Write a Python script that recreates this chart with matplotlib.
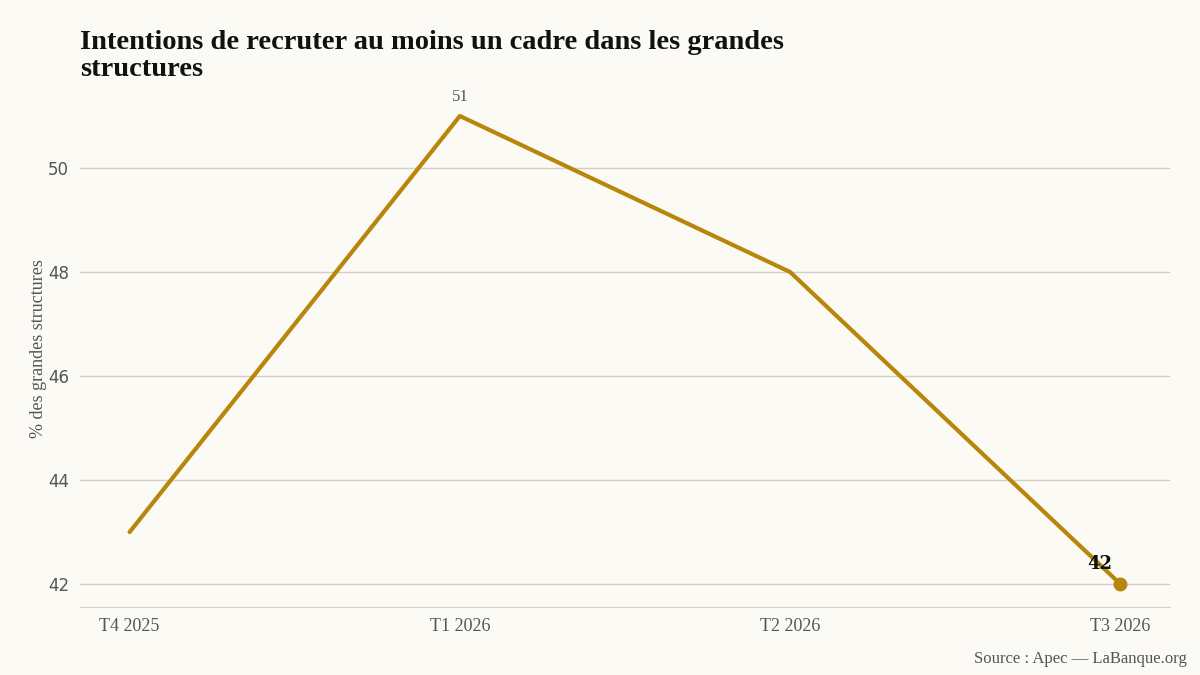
import matplotlib
matplotlib.use("Agg")
import matplotlib.pyplot as plt

# data
trimestres = ["T4 2025", "T1 2026", "T2 2026", "T3 2026"]
valeurs = [43, 51, 48, 42]
yticks = [42, 44, 46, 48, 50]

bg = "#fbfaf4"
gold = "#b8860b"
grey = "#555555"

fig = plt.figure(figsize=(12, 6.75), dpi=100, facecolor=bg)
ax = fig.add_axes([0.0667, 0.1007, 0.9083, 0.766])
ax.set_facecolor(bg)

x = list(range(len(trimestres)))
ax.plot(x, valeurs, color=gold, lw=3, solid_capstyle="round", zorder=3)
ax.plot(x[-1], valeurs[-1], "o", color=gold, ms=9, zorder=4)

ax.set_xlim(-0.15, 3.15)
ax.set_ylim(41.56, 51.5)
ax.set_yticks(yticks)
ax.set_xticks(x)
ax.set_xticklabels(trimestres, family="Liberation Serif", fontsize=13, color=grey)
for lab in ax.get_yticklabels():
    lab.set_family("DejaVu Sans")
    lab.set_fontsize(12)
    lab.set_color(grey)

ax.grid(axis="y", color="#d3cfc6", lw=1)
ax.set_axisbelow(True)
for s in ["top", "right", "left"]:
    ax.spines[s].set_visible(False)
ax.spines["bottom"].set_color("#d3cfc6")
ax.tick_params(length=0, pad=8)

ax.set_ylabel("% des grandes structures", family="Liberation Serif",
              fontsize=13, color=grey, va="center")
ax.yaxis.set_label_coords(-0.038, 0.5)

# annotations
imax = valeurs.index(max(valeurs))
ax.annotate(str(valeurs[imax]), (x[imax], valeurs[imax]), xytext=(0, 8),
            textcoords="offset points", ha="center", va="bottom",
            family="Liberation Serif", fontsize=12, color=grey)
ax.annotate(str(valeurs[-1]), (x[-1], valeurs[-1]), xytext=(-24, 8),
            textcoords="offset points", ha="left", va="bottom",
            family="DejaVu Serif", fontsize=13, fontweight="bold", color="#111111")

fig.text(0.0667, 0.955, "Intentions de recruter au moins un cadre dans les grandes\nstructures",
         family="Liberation Serif", fontsize=20.5, fontweight="bold", color="#111111",
         ha="left", va="top", linespacing=1.1)
fig.text(0.989, 0.012, "Source : Apec — LaBanque.org", family="Liberation Serif",
         fontsize=12, color=grey, ha="right", va="bottom")

fig.savefig("out.png", dpi=100, facecolor=bg)
